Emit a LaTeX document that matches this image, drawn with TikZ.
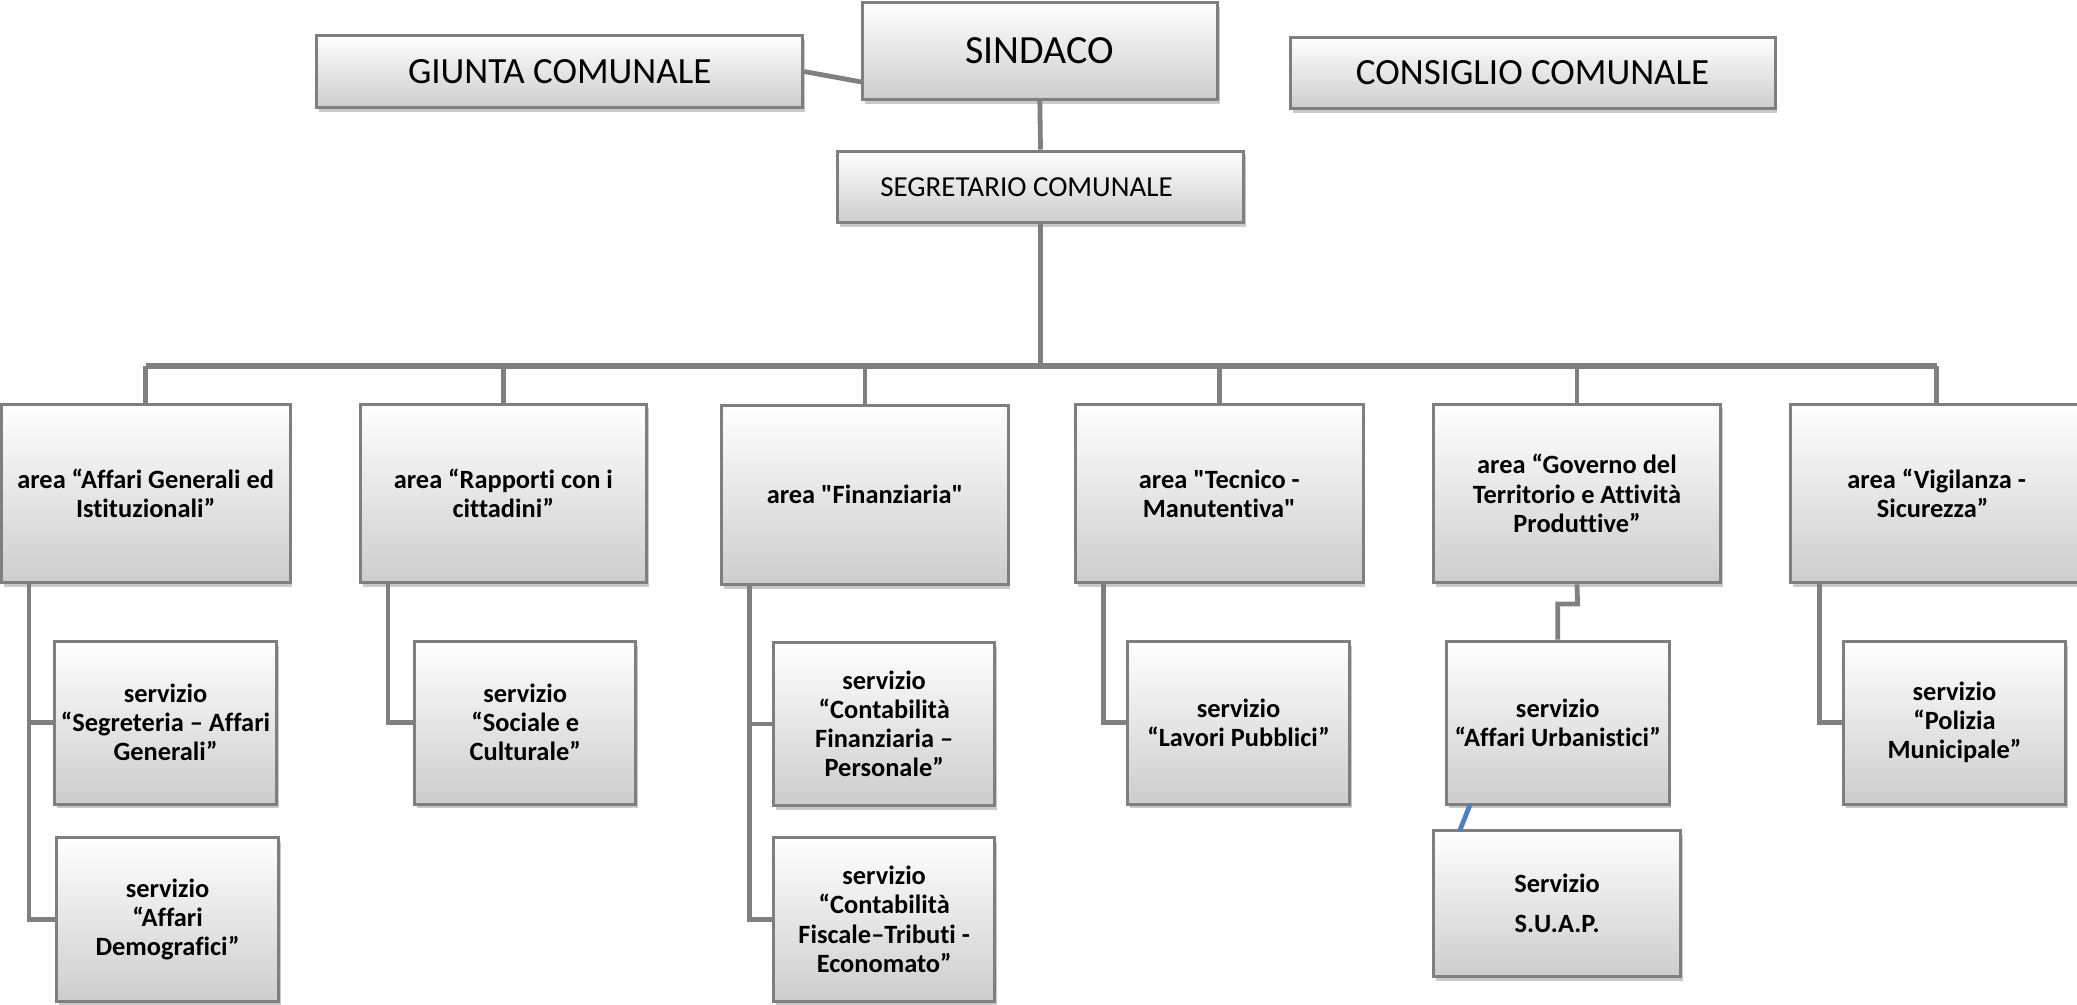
\documentclass[tikz,border=0pt]{standalone}
\usepackage{fontspec}
\setmainfont[Ligatures={TeX,NoCommon}]{Carlito}
\usetikzlibrary{shadows,calc}
\newlength\unitdp
\setlength\unitdp{0.6625pt}
\definecolor{boxborder}{HTML}{7F7F7F}
\definecolor{boxbottom}{HTML}{CDCDCD}
\definecolor{linegray}{HTML}{808080}
\definecolor{lineblue}{HTML}{4F81BD}
\newcommand\obox[7]{\node[#7, minimum width={(#4-#2)*\unitdp}, minimum height={(#5-#3)*\unitdp}] (#1) at ({(#2+#4)/2},{(#3+#5)/2}) {#6};}
\tikzset{
  box/.style={draw=boxborder, line width=1.5pt, top color=white, bottom color=boxbottom,
    drop shadow={shadow xshift=1.2pt, shadow yshift=-2.2pt, opacity=0.3, fill=black!70},
    align=center, inner sep=1pt},
  topbox/.style={box, font=\fontsize{18.5}{21}\selectfont},
  sindbox/.style={box, font=\fontsize{20}{23}\selectfont},
  segbox/.style={box, font=\fontsize{14.5}{17}\selectfont},
  areabox/.style={box, font=\fontsize{13.2}{14.6}\selectfont\bfseries},
  servbox/.style={box, font=\fontsize{13.2}{14.6}\selectfont\bfseries},
  conn/.style={draw=linegray, line width=2.4pt},
  busline/.style={draw=linegray, line width=3pt},
  blueconn/.style={draw=lineblue, line width=2.4pt},
}
\begin{document}
\begin{tikzpicture}[x=0.6625pt, y=-0.6625pt]
\useasboundingbox (0,0) rectangle (1568,758.7);
% top level
\obox{sindaco}{651}{2}{919}{75}{SINDACO}{sindbox}
\obox{giunta}{239}{27}{606}{81}{GIUNTA COMUNALE}{topbox}
\obox{consiglio}{974}{28}{1340}{82}{CONSIGLIO COMUNALE}{topbox}
\obox{segr}{632}{114}{939}{168}{SEGRETARIO COMUNALE\hspace*{14pt}}{segbox}
% areas
\obox{a1}{1}{305}{219}{440}{area “Affari Generali ed\\Istituzionali”}{areabox}
\obox{a2}{272}{305}{488}{440}{area “Rapporti con i\\cittadini”}{areabox}
\obox{a3}{545}{306}{761}{441}{area \textquotedbl Finanziaria\textquotedbl}{areabox}
\obox{a4}{812}{305}{1029}{440}{area \textquotedbl Tecnico -\\Manutentiva\textquotedbl}{areabox}
\obox{a5}{1082}{305}{1299}{440}{area “Governo del\\Territorio e Attività\\Produttive”}{areabox}
\obox{a6}{1352}{305}{1572}{440}{area “Vigilanza -\\Sicurezza”\hspace*{4pt}}{areabox}
% services
\obox{s1a}{41}{484}{209}{607}{servizio\\“Segreteria – Affari\\Generali”}{servbox}
\obox{s1b}{43}{632}{210}{756}{servizio\\“Affari\\Demografici”}{servbox}
\obox{s2}{313}{484}{480}{607}{servizio\\“Sociale e\\Culturale”}{servbox}
\obox{s3a}{584}{485}{751}{608}{servizio\\“Contabilità\\Finanziaria –\\Personale”}{servbox}
\obox{s3b}{584}{632}{751}{756}{servizio\\“Contabilità\\Fiscale–Tributi -\\Economato”}{servbox}
\obox{s4}{851}{484}{1019}{607}{servizio\\“Lavori Pubblici”}{servbox}
\obox{s5}{1092}{484}{1260}{607}{servizio\\“Affari Urbanistici”}{servbox}
\obox{s5b}{1082}{627}{1269}{737}{Servizio\\[5.4pt]S.U.A.P.}{servbox}
\obox{s6}{1392}{484}{1559}{607}{servizio\\“Polizia\\Municipale”}{servbox}
% coordinates
\coordinate (gj) at (651,62);
\coordinate (bus) at (0,276);
\coordinate (e5) at (1191,456);
\coordinate (bt) at (1110,607);
\coordinate (bb) at (1102,627);
% connectors
\draw[conn] (giunta.east) -- (gj);
\draw[conn] (sindaco.south) -- (segr.north);
\draw[conn] (segr.south) -- (segr.south |- bus);
\draw[busline] (a1.north |- bus) -- (a6.north |- bus);
\foreach \a in {a1,a2,a3,a4,a5,a6} {\draw[conn] (\a.north |- bus) -- (\a.north);}
\draw[conn] ([xshift=22\unitdp]a1.south west) |- (s1b.west);
\draw[conn] ([xshift=22\unitdp]a1.south west |- s1a.west) -- (s1a.west);
\draw[conn] ([xshift=22\unitdp]a2.south west) |- (s2.west);
\draw[conn] ([xshift=22\unitdp]a3.south west) |- (s3b.west);
\draw[conn] ([xshift=22\unitdp]a3.south west |- s3a.west) -- (s3a.west);
\draw[conn] ([xshift=22\unitdp]a4.south west) |- (s4.west);
\draw[conn] (a5.south) -- (e5) -| (s5.north);
\draw[conn] ([xshift=23\unitdp]a6.south west) |- (s6.west);
\draw[blueconn] (bt) -- (bb);
\end{tikzpicture}
\end{document}
